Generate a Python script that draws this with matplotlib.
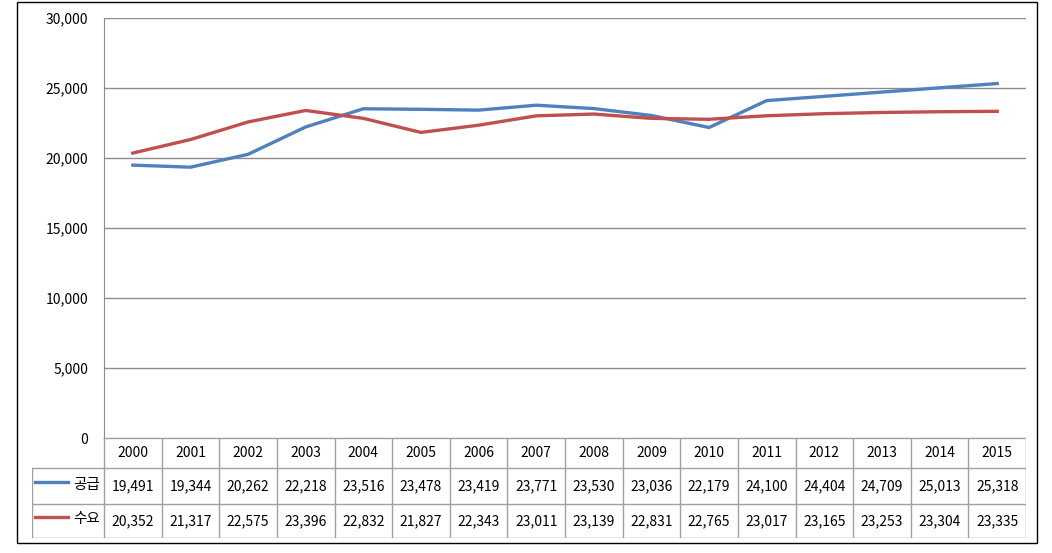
import matplotlib
matplotlib.use("Agg")
import matplotlib.pyplot as plt
from matplotlib.patches import Rectangle
from matplotlib.lines import Line2D

plt.rcParams['font.family'] = ['Noto Sans CJK KR', 'DejaVu Sans']

years = ["2000", "2001", "2002", "2003", "2004", "2005", "2006", "2007",
         "2008", "2009", "2010", "2011", "2012", "2013", "2014", "2015"]
supply = [19491, 19344, 20262, 22218, 23516, 23478, 23419, 23771,
          23530, 23036, 22179, 24100, 24404, 24709, 25013, 25318]
demand = [20352, 21317, 22575, 23396, 22832, 21827, 22343, 23011,
          23139, 22831, 22765, 23017, 23165, 23253, 23304, 23335]
series_names = ["공급", "수요"]
colors = ["#4F81BD", "#C0504D"]
yticks = [0, 5000, 10000, 15000, 20000, 25000, 30000]

W, H = 1052, 553
fig = plt.figure(figsize=(W / 100, H / 100), dpi=100)

def fx(px):
    return px / W

def fy(py):
    return 1 - py / H

# outer border
fig.patches.append(Rectangle((fx(17), fy(543)), fx(1037) - fx(17), fy(2) - fy(543),
                             transform=fig.transFigure, fill=False, edgecolor="black",
                             linewidth=1.0))

left_px, right_px, top_px, bot_px = 104, 1026, 18, 438
ax = fig.add_axes([fx(left_px), fy(bot_px), fx(right_px) - fx(left_px), fy(top_px) - fy(bot_px)])
n = len(years)
x = list(range(n))
ax.plot(x, supply, color=colors[0], linewidth=2.4, solid_joinstyle="round")
ax.plot(x, demand, color=colors[1], linewidth=2.4, solid_joinstyle="round")
ax.set_xlim(-0.5, n - 0.5)
ax.set_ylim(0, 30000)
ax.set_yticks(yticks)
ax.set_yticklabels([f"{v:,}" for v in yticks], fontsize=10)
ax.tick_params(axis="y", length=0, pad=11.5)
ax.set_xticks([])
for v in yticks:
    ax.axhline(v, color="#8C8C8C", linewidth=1.0, zorder=0)
for s in ["top", "right", "bottom"]:
    ax.spines[s].set_visible(False)
ax.spines["left"].set_color("#8C8C8C")

# data table
col_w = (right_px - left_px) / n
tab_left_px = 32
tab_top, tab_bot = 438, 538
tax = fig.add_axes([fx(tab_left_px), fy(tab_bot), fx(right_px) - fx(tab_left_px), fy(tab_top) - fy(tab_bot)])
x0 = -0.5 - (left_px - tab_left_px) / col_w
tax.set_xlim(x0, n - 0.5)
row_edges_px = [438, 468, 504, 538]
def ty(py):
    return (tab_bot - py) / (tab_bot - tab_top)
tax.set_ylim(0, 1)
tax.axis("off")
gc = "#A0A0A0"
for i in range(n + 1):
    tax.add_line(Line2D([i - 0.5, i - 0.5], [ty(438), ty(538)], color=gc, linewidth=1.0))
tax.add_line(Line2D([x0, x0], [ty(468), ty(538)], color=gc, linewidth=1.0))
tax.add_line(Line2D([-0.5, n - 0.5], [ty(438), ty(438)], color=gc, linewidth=1.0))
for py in row_edges_px[1:]:
    tax.add_line(Line2D([x0, n - 0.5], [ty(py), ty(py)], color=gc, linewidth=1.0))

fs = 10
for i, yr in enumerate(years):
    tax.text(i, ty((438 + 468) / 2), yr, ha="center", va="center", fontsize=fs)
rows = [supply, demand]
for r, vals in enumerate(rows):
    yc_px = (row_edges_px[r + 1] + row_edges_px[r + 2]) / 2
    yc = ty(yc_px)
    for i, v in enumerate(vals):
        tax.text(i, yc, f"{v:,}", ha="center", va="center", fontsize=fs)
    seg_l = x0 + 3 / col_w
    seg_r = x0 + 36 / col_w
    tax.add_line(Line2D([seg_l, seg_r], [ty(yc_px - 4), ty(yc_px - 4)],
                        color=colors[r], linewidth=2.4))
    tax.text(x0 + 68 / col_w, ty(yc_px - 1.5), series_names[r], ha="right", va="center",
             fontsize=10.5)

fig.savefig("out.png", dpi=100)
